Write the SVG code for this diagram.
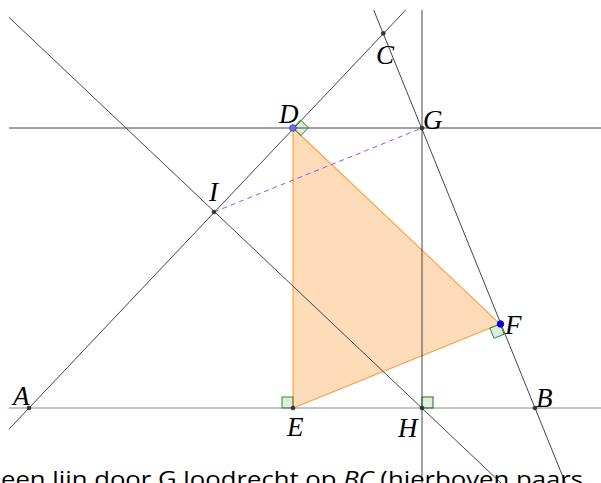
<svg xmlns="http://www.w3.org/2000/svg" width="601" height="483" viewBox="0 0 601 483">
<style>
.ln{stroke:#454545;stroke-width:1;fill:none}
.base{stroke:#c4c4c4;stroke-width:2;fill:none}
.ra{fill:#006400;fill-opacity:0.12;stroke:#2e8b2e;stroke-width:1}
.pt{fill:#333;stroke:#222;stroke-width:0.5}
.lbl{font-family:"Liberation Serif",serif;font-style:italic;font-size:27px;fill:#000}
.cap{font-family:"Open Sans",sans-serif;font-size:22px;fill:#000}
</style>
<rect width="601" height="483" fill="#fff"/>
<g id="triangle">
<polygon points="293,128 293,408 500,324" fill="#ffdcb9" stroke="#ffa53f" stroke-width="1.2"/>
</g>
<g id="connectors">
<line class="base" x1="9" y1="408" x2="601" y2="408"/>
<line class="ln" x1="9" y1="128" x2="601" y2="128"/>
<line class="ln" x1="422" y1="10" x2="422" y2="483"/>
<line class="ln" x1="9" y1="429.2" x2="405.7" y2="10"/>
<line class="ln" x1="373.7" y1="10" x2="565.4" y2="483"/>
<line class="ln" x1="9" y1="17.3" x2="501" y2="483"/>
<line x1="214" y1="212" x2="422" y2="128" stroke="#9b4dff" stroke-width="1" stroke-dasharray="5,4"/>
</g>
<g id="right-angles">
<polygon class="ra" points="293,128 300.5,120 308.5,127.6 301,135.6"/>
<polygon class="ra" points="500,324 489.8,328.1 494.0,338.3 504.2,334.2"/>
<rect class="ra" x="282" y="397" width="11" height="11"/>
<rect class="ra" x="422" y="397" width="11" height="11" style="stroke:#1f6e1f"/>
</g>
<g id="A"><circle class="pt" cx="29" cy="408" r="2"/><text class="lbl" x="13" y="405">A</text></g>
<g id="B"><circle class="pt" cx="535" cy="408" r="2"/><text class="lbl" x="536" y="407">B</text></g>
<g id="C"><circle class="pt" cx="383.3" cy="33.3" r="2"/><text class="lbl" x="376" y="64">C</text></g>
<g id="D"><circle cx="293" cy="128" r="3.3" fill="#6b6bff" stroke="#3d3d99" stroke-width="0.8"/><text class="lbl" x="279" y="123">D</text></g>
<g id="E"><circle class="pt" cx="293" cy="408" r="2"/><text class="lbl" x="287" y="436">E</text></g>
<g id="F"><circle cx="500.5" cy="324" r="3.3" fill="#0000ff" stroke="#00008b" stroke-width="0.8"/><text class="lbl" x="505" y="334">F</text></g>
<g id="G"><circle class="pt" cx="422" cy="128" r="2"/><text class="lbl" x="423" y="129">G</text></g>
<g id="H"><circle class="pt" cx="422" cy="408" r="2"/><text class="lbl" x="398" y="437">H</text></g>
<g id="I"><circle class="pt" cx="214" cy="212" r="2"/><text class="lbl" x="209" y="201">I</text></g>
<text class="cap" x="1" y="487" textLength="582" lengthAdjust="spacingAndGlyphs">een lijn door G loodrecht op <tspan font-style="italic">BC</tspan> (hierboven paars</text>
</svg>
